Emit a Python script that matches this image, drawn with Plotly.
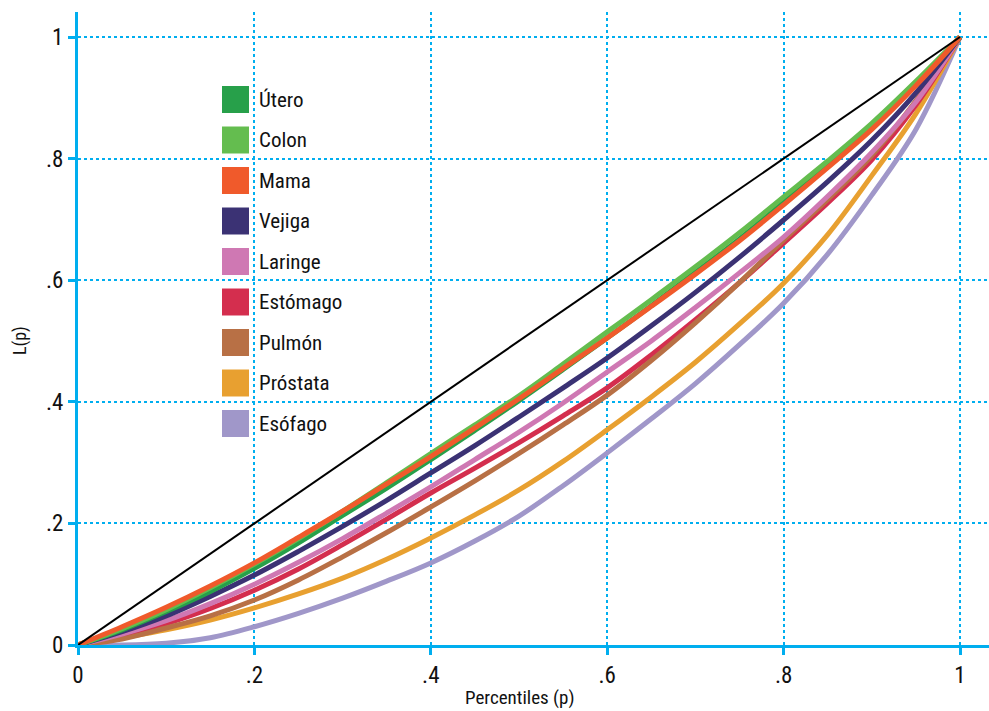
import plotly.graph_objects as go

# ---- data ----
p = [0, 0.05, 0.1, 0.15, 0.2, 0.25, 0.3, 0.35, 0.4, 0.45, 0.5,
     0.55, 0.6, 0.65, 0.7, 0.75, 0.8, 0.85, 0.9, 0.95, 1.0]

names = ["Útero", "Colon", "Mama", "Vejiga", "Laringe", "Estómago", "Pulmón", "Próstata", "Esófago"]
colors = ["#27A04A", "#64BD4F", "#F05A2B", "#3B3274", "#CF78B3", "#D42E4E", "#B87045", "#E8A030", "#A097C9"]

utero    = [0, .025, .055, .088, .126, .168, .213, .258, .305, .353, .402, .453, .505, .558, .613, .668, .728, .788, .852, .922, 1]
colon    = [0, .027, .058, .094, .133, .175, .220, .267, .315, .362, .410, .462, .515, .568, .622, .678, .737, .796, .858, .927, 1]
mama     = [0, .030, .062, .097, .135, .177, .220, .265, .310, .357, .405, .455, .505, .557, .610, .665, .724, .785, .848, .920, 1]
vejiga   = [0, .022, .048, .080, .115, .154, .195, .238, .283, .328, .375, .423, .472, .525, .580, .638, .699, .762, .830, .908, 1]
laringe  = [0, .018, .040, .068, .100, .136, .175, .217, .260, .305, .350, .398, .449, .500, .555, .612, .671, .738, .810, .893, 1]
estomago = [0, .016, .035, .060, .090, .125, .165, .207, .250, .291, .333, .377, .423, .477, .535, .596, .661, .727, .798, .888, 1]
pulmon   = [0, .010, .028, .048, .074, .107, .145, .185, .227, .270, .315, .362, .411, .468, .530, .596, .666, .733, .805, .895, 1]
prostata = [0, .012, .025, .041, .061, .084, .110, .141, .176, .214, .255, .302, .354, .408, .465, .528, .595, .675, .772, .874, 1]
esofago  = [0, .000, .003, .012, .030, .052, .077, .105, .135, .171, .212, .262, .316, .372, .430, .494, .562, .643, .740, .848, 1]

series = [utero, colon, mama, vejiga, laringe, estomago, pulmon, prostata, esofago]
draw_order = [8, 7, 5, 6, 4, 3, 0, 1, 2]

tick_vals = [0, 0.2, 0.4, 0.6, 0.8, 1]
tick_text = ["0", ".2", ".4", ".6", ".8", "1"]

FONT = "Liberation Sans Narrow, Roboto Condensed, Arial Narrow, DejaVu Sans Condensed, sans-serif"
CYAN = "#00AEEF"

fig = go.Figure()
for i in draw_order:
    fig.add_trace(go.Scatter(x=p, y=series[i], mode="lines", name=names[i],
                             line=dict(color=colors[i], width=5, shape="spline", smoothing=1.0),
                             showlegend=False, cliponaxis=False))
fig.add_trace(go.Scatter(x=[0, 1], y=[0, 1], mode="lines", line=dict(color="black", width=2),
                         showlegend=False))

W, H = 989, 711
ml, mr, mt, mb = 78, 0, 12, 66
pw, ph = W - ml - mr, H - mt - mb

# legend built with shapes + text
for k, (n, c) in enumerate(zip(names, colors)):
    cy = 99.5 + 40.5 * k
    y0 = (H - mb - (cy + 13.5)) / ph
    y1 = (H - mb - (cy - 13.5)) / ph
    x0 = (222 - ml) / pw
    x1 = (249 - ml) / pw
    fig.add_shape(type="rect", xref="paper", yref="paper", x0=x0, x1=x1, y0=y0, y1=y1,
                  fillcolor=c, line=dict(color=c, width=0), layer="above")
    fig.add_annotation(xref="paper", yref="paper", x=(257 - ml) / pw, y=(H - mb - cy) / ph,
                       text=n, showarrow=False, xanchor="left", yanchor="middle",
                       font=dict(family=FONT, size=21, color="#111"))

fig.add_annotation(xref="x", yref="paper", x=0.5, y=-(697 - (H - mb)) / ph, text="Percentiles (p)",
                   showarrow=False, xanchor="center", yanchor="middle",
                   font=dict(family=FONT, size=19, color="#111"))
fig.add_annotation(xref="paper", yref="y", x=-(ml - 20) / pw, y=0.5, text="L(p)", textangle=-90,
                   showarrow=False, xanchor="center", yanchor="middle",
                   font=dict(family=FONT, size=18, color="#111"))

axis_common = dict(showline=True, linecolor=CYAN, linewidth=3, ticks="outside", ticklen=7,
                   tickwidth=3, tickcolor=CYAN, showgrid=True, gridcolor=CYAN, gridwidth=1.5,
                   griddash="dot", zeroline=False, tickvals=tick_vals, ticktext=tick_text,
                   tickfont=dict(family=FONT, size=23, color="#111"))

fig.update_layout(
    width=W, height=H, margin=dict(l=ml, r=mr, t=mt, b=mb),
    paper_bgcolor="white", plot_bgcolor="white",
    xaxis=dict(range=[0, pw / 882], **axis_common),
    yaxis=dict(range=[0, ph / 608], **axis_common),
)
fig.write_html("out.html")
